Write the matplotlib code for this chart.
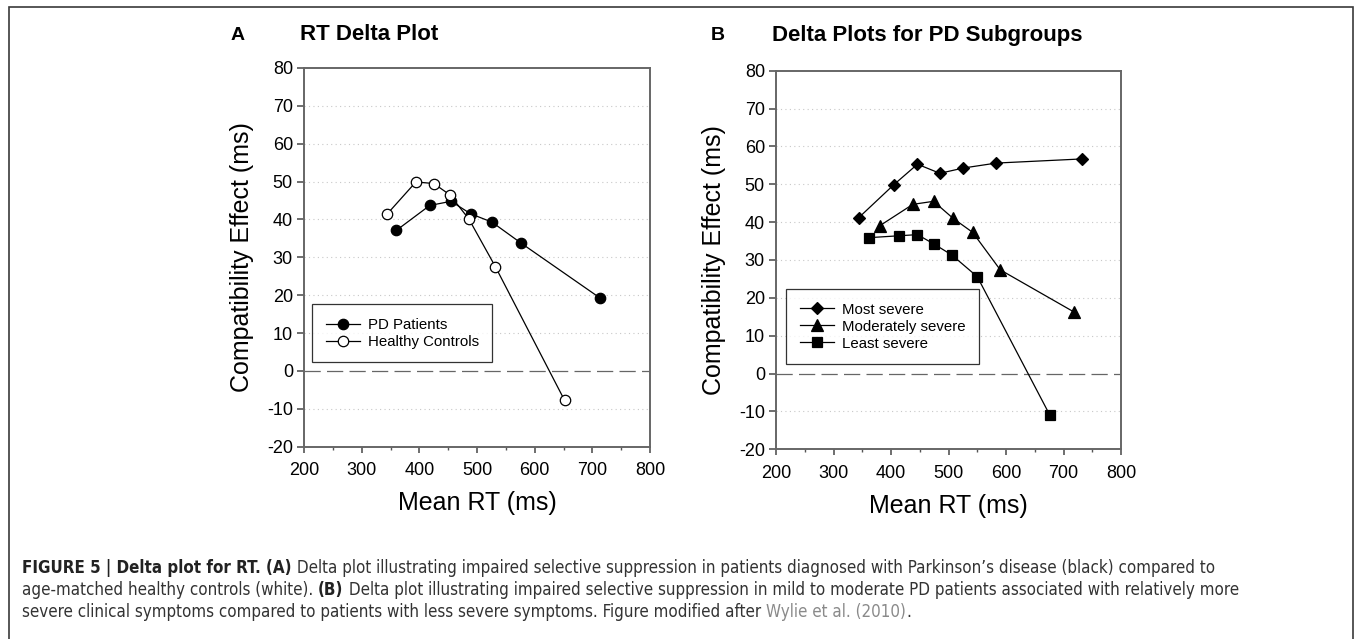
import matplotlib
matplotlib.use("Agg")
import matplotlib.pyplot as plt
from matplotlib import font_manager as fm
from matplotlib.patches import Rectangle

# ---------------- data ----------------
pd_rt = [360, 418, 455, 489, 526, 577, 713]
pd_eff = [37.1, 43.7, 44.8, 41.5, 39.3, 33.7, 19.3]
hc_rt = [344, 394, 425, 453, 486, 532, 652]
hc_eff = [41.4, 49.9, 49.5, 46.5, 40.1, 27.5, -7.8]

most_rt = [344, 405, 446, 485, 526, 583, 733]
most_eff = [41.2, 49.9, 55.3, 52.9, 54.3, 55.6, 56.7]
mod_rt = [380, 438, 474, 508, 542, 590, 719]
mod_eff = [39.0, 44.7, 45.5, 41.0, 37.3, 27.4, 16.2]
least_rt = [362, 414, 446, 475, 506, 550, 676]
least_eff = [35.9, 36.4, 36.7, 34.2, 31.3, 25.6, -10.9]

xticks = [200, 300, 400, 500, 600, 700, 800]
yticks = [-20, -10, 0, 10, 20, 30, 40, 50, 60, 70, 80]

W, H = 1355, 639
fig = plt.figure(figsize=(W / 100, H / 100), dpi=100)
fig.patch.set_facecolor("white")

FONT = ["Liberation Sans", "DejaVu Sans"]
plt.rcParams["font.family"] = FONT
plt.rcParams["axes.unicode_minus"] = False


def fx(px):
    return px / W


def fy(py):
    return 1 - py / H


def setup(ax):
    ax.set_xlim(200, 800)
    ax.set_ylim(-20, 80)
    ax.set_xticks(xticks)
    ax.set_xticks(range(250, 800, 100), minor=True)
    ax.set_yticks(yticks)
    for s in ax.spines.values():
        s.set_color("#666666")
        s.set_linewidth(1.4)
    ax.tick_params(axis="both", which="major", direction="out", length=5,
                   width=1.2, color="#555555", labelsize=13, pad=3)
    ax.tick_params(axis="x", which="minor", direction="out", length=2.5,
                   width=1.0, color="#555555")
    ax.tick_params(axis="x", which="major", length=4, pad=7)
    for y in yticks:
        if y not in (-20, 0, 80):
            ax.axhline(y, color="#c8c8c8", lw=0.8, ls=(0, (1, 3)), zorder=0)
    ax.axhline(0, color="#666666", lw=0.9, ls=(0, (13, 5)), zorder=1)
    ax.set_xlabel("Mean RT (ms)", fontsize=18, labelpad=9)
    ax.set_ylabel("Compatibility Effect (ms)", fontsize=18, labelpad=9)


axA = fig.add_axes([fx(304), fy(446.7), fx(650) - fx(304), fy(68) - fy(446.7)])
axB = fig.add_axes([fx(776), fy(449.3), fx(1121) - fx(776), fy(70.7) - fy(449.3)])
setup(axA)
setup(axB)

lkw = dict(color="black", lw=0.9, mec="black", mew=0.9, zorder=3)
axA.plot(pd_rt, pd_eff, marker="o", ms=7.5, mfc="black", label="PD Patients", **lkw)
axA.plot(hc_rt, hc_eff, marker="o", ms=7.5, mfc="white", label="Healthy Controls", **lkw)

axB.plot(most_rt, most_eff, marker="D", ms=6.5, mfc="black", label="Most severe", **lkw)
axB.plot(mod_rt, mod_eff, marker="^", ms=8, mfc="black", label="Moderately severe", **lkw)
axB.plot(least_rt, least_eff, marker="s", ms=6.5, mfc="black", label="Least severe", **lkw)

for ax, bbox in ((axA, (312.3, 304.3, 484.3, 360.3)), (axB, (786, 289, 969.3, 364))):
    leg = ax.legend(loc="upper left",
                    bbox_to_anchor=(fx(bbox[0]), fy(bbox[1])),
                    bbox_transform=fig.transFigure,
                    fontsize=10.8, frameon=True, fancybox=False, shadow=False,
                    borderpad=0.9, handlelength=2.3, handletextpad=0.5,
                    labelspacing=0.2, borderaxespad=0)
    leg.get_frame().set_edgecolor("black")
    leg.get_frame().set_linewidth(0.9)

# panel titles
fig.text(fx(238), fy(35), "A", fontsize=14, fontweight="bold", ha="center", va="center")
fig.text(fx(300), fy(35), "RT Delta Plot", fontsize=16, fontweight="bold", ha="left", va="center")
fig.text(fx(718), fy(35), "B", fontsize=14, fontweight="bold", ha="center", va="center")
fig.text(fx(772), fy(35), "Delta Plots for PD Subgroups", fontsize=16, fontweight="bold",
         ha="left", va="center")

# outer border
fig.add_artist(Rectangle((fx(9), fy(660)), fx(1353) - fx(9), fy(7) - fy(660),
                         transform=fig.transFigure, fill=False, edgecolor="#3a3a3a",
                         lw=1.2, clip_on=False))

# caption font: prefer a narrow/condensed sans if one is installed
names = {f.name for f in fm.fontManager.ttflist}
cap_stretch = "normal"
if "Liberation Sans Narrow" in names:
    CAP = ["Liberation Sans Narrow", "DejaVu Sans"]
elif any(f.name == "DejaVu Sans" and "ondensed" in f.fname for f in fm.fontManager.ttflist):
    CAP = ["DejaVu Sans"]
    cap_stretch = "condensed"
else:
    CAP = ["Liberation Sans", "DejaVu Sans"]

lines = [
    [("FIGURE 5 | Delta plot for RT. (A)", "bold", "#222222"),
     (" Delta plot illustrating impaired selective suppression in patients diagnosed with "
      "Parkinson\u2019s disease (black) compared to", "normal", "#333333")],
    [("age-matched healthy controls (white). ", "normal", "#333333"),
     ("(B)", "bold", "#222222"),
     (" Delta plot illustrating impaired selective suppression in mild to moderate PD patients "
      "associated with relatively more", "normal", "#333333")],
    [("severe clinical symptoms compared to patients with less severe symptoms. "
      "Figure modified after ", "normal", "#333333"),
     ("Wylie et al. (2010)", "normal", "#8a8a8a"),
     (".", "normal", "#333333")],
]
renderer = fig.canvas.get_renderer()

# fit the caption so that the second line spans x = 22 .. 1237
base = 12.0
probe_w = 0.0
for txt, wt, col in lines[1]:
    t = fig.text(0, 0, txt, fontsize=base, fontweight=wt, family=CAP, stretch=cap_stretch)
    probe_w += t.get_window_extent(renderer=renderer).width
    t.remove()
capsize = base * (1237 - 22) / probe_w

ys = [568, 590, 612]
for line, y in zip(lines, ys):
    x = 22.0
    for txt, wt, col in line:
        t = fig.text(fx(x), fy(y), txt, fontsize=capsize, fontweight=wt, color=col,
                     family=CAP, stretch=cap_stretch, ha="left", va="center")
        bb = t.get_window_extent(renderer=renderer)
        x += bb.width

fig.savefig("out.png", dpi=100, facecolor="white")
